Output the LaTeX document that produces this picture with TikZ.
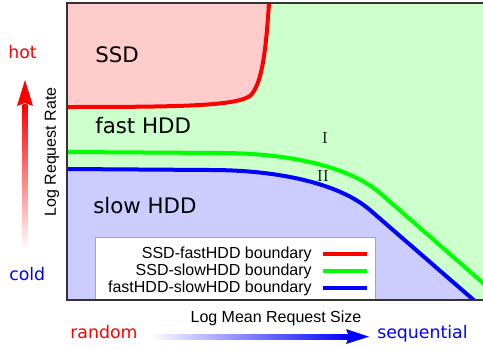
\documentclass[tikz,border=0pt]{standalone}
\usepackage{fontspec}
\newfontfamily\dejavu{DejaVu Sans}
\newfontfamily\arial{Liberation Sans}
\usetikzlibrary{calc}
\definecolor{pinkfill}{HTML}{FFCCCC}
\definecolor{greenfill}{HTML}{CCFFCC}
\definecolor{bluefill}{HTML}{CCCCFF}
\definecolor{lgreen}{HTML}{00FF00}
\definecolor{framegray}{HTML}{333333}
\tikzset{
  bound/.style={line width=3pt},
  region/.style={font=\dejavu\fontsize{16}{18}\selectfont, anchor=base west, inner sep=0pt},
  legtext/.style={font=\arial\fontsize{12}{13}\selectfont, anchor=east, inner sep=0pt},
  roman/.style={font=\fontsize{12}{13}\selectfont, inner sep=0pt},
}
\begin{document}
\begin{tikzpicture}[x=0.75pt,y=-0.75pt]
\useasboundingbox (0,0) rectangle (483,350);
% regions
\fill[greenfill] (67,3) rectangle (483,300);
\fill[pinkfill] (67,3) -- (269,3) .. controls (266,50) and (262,85) .. (250,96) .. controls (235,106) and (180,107) .. (67,107) -- cycle;
\fill[bluefill] (67,169) -- (210,170) .. controls (280,170) and (340,184) .. (370,210) -- (473,300) -- (67,300) -- cycle;
% boundaries
\begin{scope}
\clip (67,3) rectangle (483,300);
\draw[bound,red] (67,107) .. controls (180,107) and (235,106) .. (250,96) .. controls (262,85) and (266,50) .. (269,3);
\draw[bound,lgreen] (67,152) -- (220,153) .. controls (290,153) and (350,167) .. (380,193) -- (490,289);
\draw[bound,blue] (67,169) -- (210,170) .. controls (280,170) and (340,184) .. (370,210) -- (476,302);
\end{scope}
% legend
\draw[gray!70,fill=white] (95,300) -- (95,237) -- (375,237) -- (375,300);
\node[legtext] (l1) at (312,254) {SSD-fastHDD boundary};
\node[legtext] (l2) at (312,271) {SSD-slowHDD boundary};
\node[legtext] (l3) at (312,288) {fastHDD-slowHDD boundary};
\coordinate (r1a) at (323,254); \coordinate (r1b) at (367,254);
\coordinate (r2a) at (323,271); \coordinate (r2b) at (367,271);
\coordinate (r3a) at (323,288); \coordinate (r3b) at (367,288);
\draw[bound,red] (r1a) -- (r1b);
\draw[bound,lgreen] (r2a) -- (r2b);
\draw[bound,blue] (r3a) -- (r3b);
% frame
\draw[framegray,line width=1.2pt] (483,3) -- (67,3) -- (67,300) -- (483,300);
% region labels
\node[region] (ssd) at (95,62) {SSD};
\node[region] (fast) at (95,133) {fast HDD};
\node[region] (slow) at (93,213) {slow HDD};
\node[roman] (I) at (325,138) {I};
\node[roman] (II) at (323,176) {II};
% axis labels
\node[font=\arial\fontsize{12}{13}\selectfont, rotate=90, inner sep=0pt] (ylab) at (52,152) {Log Request Rate};
\node[font=\arial\fontsize{12}{13}\selectfont, anchor=base, inner sep=0pt] (xlab) at (276,322) {Log Mean Request Size};
\node[font=\dejavu\fontsize{13}{15}\selectfont, text=red, anchor=base west, inner sep=0pt] (hot) at (8,58) {hot};
\node[font=\dejavu\fontsize{13}{15}\selectfont, text=blue, anchor=base west, inner sep=0pt] (cold) at (9,280) {cold};
\node[font=\dejavu\fontsize{13}{15}\selectfont, text=red, anchor=base west, inner sep=0pt] (rand) at (70,338) {random};
\node[font=\dejavu\fontsize{13}{15}\selectfont, text=blue, anchor=base west, inner sep=0pt] (seq) at (377,338) {sequential};
% vertical gradient arrow
\shade[bottom color=white, top color=red] (22.5,250) rectangle (27.5,104);
\fill[red] (25,80) -- (33,106) -- (25,103) -- (17,106) -- cycle;
% horizontal gradient arrow
\shade[left color=white, right color=blue] (150,334) rectangle (350,339.5);
\fill[blue] (369,336.7) -- (346,329) -- (349,336.7) -- (346,344) -- cycle;
\end{tikzpicture}
\end{document}
